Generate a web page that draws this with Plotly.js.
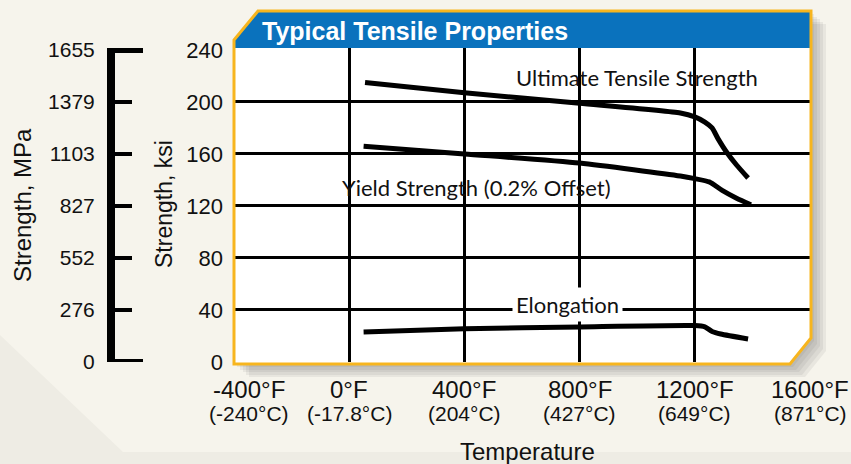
<!DOCTYPE html>
<html>
<head>
<meta charset="utf-8">
<script src="https://cdn.plot.ly/plotly-3.0.1.min.js"></script>
<style>html,body{margin:0;padding:0;background:#f6f4ec;}#chart{width:851px;height:464px;}</style>
</head>
<body>
<div id="chart"></div>
<script>
// ---- data ----
const tempF = [-400, 0, 400, 800, 1200, 1600];
const tempC = ['-240', '-17.8', '204', '427', '649', '871'];
const gridF = [0, 400, 800, 1200];
const ksiTicks = [0, 40, 80, 120, 160, 200, 240];
const ksiGrid = [40, 80, 120, 160, 200];
const mpaTicks = [0, 276, 552, 827, 1103, 1379, 1655];

const utsT   = [55, 400, 800, 1150, 1200, 1235, 1260, 1280, 1310, 1345, 1385];
const utsKsi = [215, 207, 199, 191.5, 188.5, 184.5, 180, 172, 161.5, 151.5, 141.5];
const ysT    = [50, 400, 800, 1150, 1200, 1250, 1295, 1345, 1395];
const ysKsi  = [166, 160, 153, 143, 141, 138.5, 132, 126, 121];
const elT    = [50, 400, 800, 1200, 1235, 1260, 1290, 1385];
const elVal  = [23, 25.5, 27, 28, 27, 23.5, 21.5, 17.7];

const labels = {
  uts: 'Ultimate Tensile Strength',
  ys: 'Yield Strength (0.2% Offset)',
  el: 'Elongation'
};

// ---- layout helpers ----
const W = 851, H = 464;
const px = x => x / W;
const py = y => 1 - y / H;
function path(pts) {
  return 'M ' + pts.map(p => px(p[0]).toFixed(5) + ',' + py(p[1]).toFixed(5)).join(' L ') + ' Z';
}
const boxPts = [[234, 40], [258, 11], [811, 11], [811, 338], [790, 364], [234, 364]];
const shift = (pts, dx, dy) => pts.map(p => [p[0] + dx, p[1] + dy]);

const KSI_MAX = 241.5;
const MPA_PER_KSI = 6.895;
const lineFont = 'Lato, "Open Sans", sans-serif';
const sansFont = '"Liberation Sans", Arial, sans-serif';

const curve = (x, y) => ({
  type: 'scatter', mode: 'lines', x: x, y: y, xaxis: 'x', yaxis: 'y',
  line: {color: '#000', width: 5, shape: 'spline', smoothing: 0.6},
  hoverinfo: 'skip', showlegend: false
});

const traces = [
  curve(utsT, utsKsi),
  curve(ysT, ysKsi),
  curve(elT, elVal),
  {type: 'scatter', x: [null], y: [null], xaxis: 'x', yaxis: 'y2', showlegend: false, hoverinfo: 'skip'},
  {type: 'scatter', x: [null], y: [null], xaxis: 'x', yaxis: 'y3', showlegend: false, hoverinfo: 'skip'}
];

const shapes = [
  {type: 'path', xref: 'paper', yref: 'paper', layer: 'below',
   path: path([[0, 335], [123, 452], [851, 452], [851, 464], [0, 464]]),
   fillcolor: '#eeece4', line: {width: 0}},
];
[[3, 3], [6, 6], [9, 8], [12, 11], [15, 13]].forEach(o => {
  shapes.push({type: 'path', xref: 'paper', yref: 'paper', layer: 'below',
    path: path(shift(boxPts, o[0], o[1])), fillcolor: 'rgba(60,60,50,0.07)', line: {width: 0}});
});
shapes.push(
  {type: 'path', xref: 'paper', yref: 'paper', layer: 'below',
   path: path(boxPts), fillcolor: '#ffffff', line: {width: 0}},
  {type: 'path', xref: 'paper', yref: 'paper', layer: 'below',
   path: path([[234, 40], [258, 11], [811, 11], [811, 48], [234, 48]]), fillcolor: '#0a72bd', line: {width: 0}},
  {type: 'path', xref: 'paper', yref: 'paper', layer: 'above',
   path: path(boxPts), fillcolor: 'rgba(0,0,0,0)', line: {color: '#f7b51e', width: 3}},
  {type: 'line', xref: 'paper', yref: 'y2', x0: px(108), x1: px(143),
   y0: mpaTicks[mpaTicks.length - 1], y1: mpaTicks[mpaTicks.length - 1], line: {color: '#000', width: 6}},
  {type: 'line', xref: 'paper', yref: 'y2', x0: px(108), x1: px(143),
   y0: mpaTicks[0], y1: mpaTicks[0], line: {color: '#000', width: 6}}
);

const ann = (o) => Object.assign({showarrow: false, xanchor: 'center', yanchor: 'middle'}, o);
const annotations = [
  ann({xref: 'x', yref: 'y', x: 1000, y: 219, text: labels.uts,
   font: {family: lineFont, size: 22, color: '#111'}}),
  ann({xref: 'x', yref: 'y', x: 441, y: 134, text: labels.ys,
   font: {family: lineFont, size: 22, color: '#111'}}),
  ann({xref: 'x', yref: 'y', x: 757, y: 44.6, text: labels.el, bgcolor: '#ffffff', borderpad: 3,
   font: {family: lineFont, size: 22, color: '#111'}}),
  ann({xref: 'paper', yref: 'paper', x: px(22), y: py(205), text: 'Strength, MPa', textangle: -90,
   font: {family: sansFont, size: 24, color: '#111'}}),
  ann({xref: 'paper', yref: 'paper', x: px(164), y: py(204), text: 'Strength, ksi', textangle: -90,
   font: {family: sansFont, size: 23, color: '#111'}}),
  ann({xref: 'paper', yref: 'paper', x: px(527), y: py(451), text: 'Temperature',
   font: {family: sansFont, size: 24, color: '#111'}})
];
tempF.forEach((f, i) => {
  const xs = i === 0 ? 15 : 0;
  annotations.push(ann({xref: 'x', yref: 'paper', x: f, y: py(389), xshift: xs, text: f + '°F',
    font: {family: sansFont, size: 24, color: '#111'}}));
  annotations.push(ann({xref: 'x', yref: 'paper', x: f, y: py(413), xshift: xs, text: '(' + tempC[i] + '°C)',
    font: {family: sansFont, size: 21, color: '#111'}}));
});

const layout = {
  width: W, height: H,
  margin: {l: 0, r: 0, t: 0, b: 0},
  paper_bgcolor: '#f6f4ec',
  plot_bgcolor: 'rgba(0,0,0,0)',
  showlegend: false,
  title: {text: '<b>Typical Tensile Properties</b>', xref: 'paper', yref: 'paper', x: px(262), xanchor: 'left',
          y: py(31), yanchor: 'middle', font: {family: sansFont, size: 25, color: '#ffffff'}},
  xaxis: {domain: [px(234), px(810)], range: [tempF[0], tempF[tempF.length - 1]],
          tickmode: 'array', tickvals: gridF, showticklabels: false, ticks: '',
          showgrid: true, gridcolor: '#000', gridwidth: 3, zeroline: false, showline: false, fixedrange: true},
  yaxis: {domain: [py(362), py(48)], range: [0, KSI_MAX],
          tickmode: 'array', tickvals: ksiGrid, showticklabels: false, ticks: '',
          showgrid: true, gridcolor: '#000', gridwidth: 3, zeroline: false, showline: false, fixedrange: true},
  yaxis3: {overlaying: 'y', anchor: 'x', side: 'left', range: [0, KSI_MAX],
          tickmode: 'array', tickvals: ksiTicks, ticks: '', showgrid: false, zeroline: false, showline: false,
          ticklabelstandoff: 10, tickfont: {family: sansFont, size: 22, color: '#111'}, fixedrange: true},
  yaxis2: {overlaying: 'y', anchor: 'free', position: px(111), side: 'left', range: [0, KSI_MAX * MPA_PER_KSI],
          tickmode: 'array', tickvals: mpaTicks, ticks: 'inside', ticklen: 17, tickwidth: 4, tickcolor: '#000',
          showline: true, linewidth: 8, linecolor: '#000', showgrid: false, zeroline: false,
          ticklabelstandoff: 8, tickfont: {family: sansFont, size: 21, color: '#111'}, fixedrange: true},
  shapes: shapes,
  annotations: annotations
};

Plotly.newPlot('chart', traces, layout, {displayModeBar: false, staticPlot: true});
</script>
</body>
</html>
